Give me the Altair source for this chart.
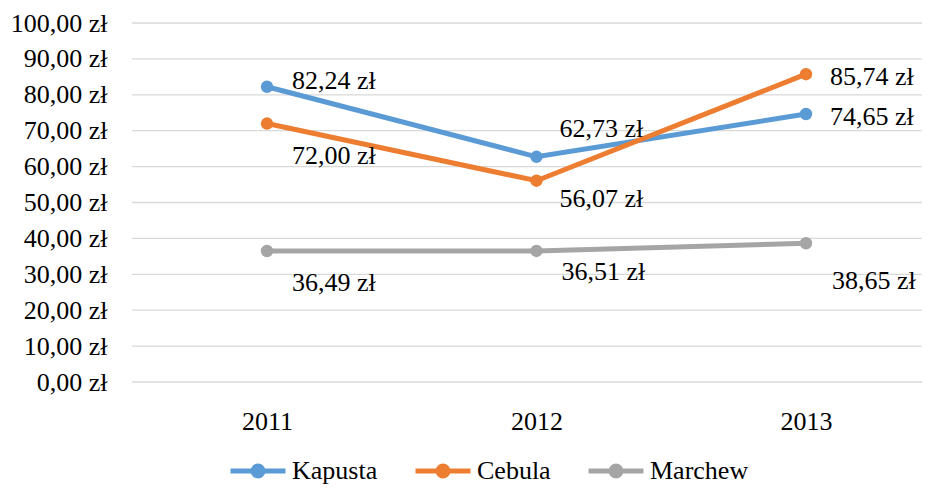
import altair as alt
import pandas as pd

# ---- data ----
years = ["2011", "2012", "2013"]
series_names = ["Kapusta", "Cebula", "Marchew"]
kapusta = [82.24, 62.73, 74.65]
cebula = [72.00, 56.07, 85.74]
marchew = [36.49, 36.51, 38.65]
y_ticks = [0, 10, 20, 30, 40, 50, 60, 70, 80, 90, 100]

# ---- style ----
colors = ["#5B9BD5", "#ED7D31", "#A5A5A5"]
FONT = "Liberation Serif"
FS = 26
W, H = 790, 359
# data-label offsets (px) per series, per year
label_dx = {"Kapusta": [25, 23, 24], "Cebula": [25, 23, 24], "Marchew": [25, 25, 26]}
label_dy = {"Kapusta": [2, -20, 11], "Cebula": [40, 26, 11], "Marchew": [40, 29, 46]}

rows = []
for name, vals in zip(series_names, [kapusta, cebula, marchew]):
    for yr, v in zip(years, vals):
        rows.append({"Rok": yr, "Seria": name, "Cena": v})
df = pd.DataFrame(rows)
grid_df = pd.DataFrame({"Cena": y_ticks})

x_enc = alt.X(
    "Rok:N",
    sort=years,
    scale=alt.Scale(type="point", range=[135, 674], padding=0),
    axis=alt.Axis(title=None, labelAngle=0, ticks=False, domain=False, grid=False,
                  labelFont=FONT, labelFontSize=FS, labelColor="#000000", labelPadding=26),
)
y_enc = alt.Y(
    "Cena:Q",
    scale=alt.Scale(domain=[0, 100], nice=False, zero=True),
    axis=alt.Axis(title=None, values=y_ticks, ticks=False, domain=False, grid=False,
                  labelOverlap=False, tickCount=11,
                  labelExpr="replace(format(datum.value, '.2f'), '.', ',') + ' zł'",
                  labelFont=FONT, labelFontSize=FS, labelColor="#000000", labelPadding=25),
)

col_scale = alt.Scale(domain=series_names, range=colors)
# line with a dot (nested circles so the dot is solid even when only stroked)
legend_path = ("M-1,0H1"
               "M0.18,0A0.18,0.18,0,1,1,-0.18,0A0.18,0.18,0,1,1,0.18,0"
               "M0.09,0A0.09,0.09,0,1,1,-0.09,0A0.09,0.09,0,1,1,0.09,0"
               "M0.02,0A0.02,0.02,0,1,1,-0.02,0A0.02,0.02,0,1,1,0.02,0")
leg = alt.Legend(
    title=None, orient="none", direction="horizontal", legendX=96, legendY=418,
    symbolType=legend_path, symbolSize=3025, symbolStrokeWidth=5,
    labelFont=FONT, labelFontSize=FS, labelColor="#000000", labelOffset=4,
    columnPadding=27, padding=0, symbolOpacity=1,
)

base = alt.Chart(df)

grid = alt.Chart(grid_df).mark_rule(color="#D9D9D9", strokeWidth=1.3).encode(
    y=y_enc,
    x=alt.value(0), x2=alt.value(W),
)

lines = base.mark_line(strokeWidth=5).encode(
    x=x_enc, y=y_enc,
    color=alt.Color("Seria:N", scale=col_scale, legend=leg, sort=series_names),
)

points = base.mark_point(filled=True, size=154, opacity=1).encode(
    x=x_enc, y=y_enc,
    color=alt.Color("Seria:N", scale=col_scale, legend=leg, sort=series_names),
)

texts = []
for name in series_names:
    for j, yr in enumerate(years):
        t = base.transform_filter(
            (alt.datum.Seria == name) & (alt.datum.Rok == yr)
        ).transform_calculate(
            label="replace(format(datum.Cena, '.2f'), '.', ',') + ' zł'"
        ).mark_text(
            align="left", baseline="alphabetic", dx=label_dx[name][j], dy=label_dy[name][j],
            font=FONT, fontSize=FS, color="#000000",
        ).encode(x=x_enc, y=y_enc, text="label:N")
        texts.append(t)

chart = alt.layer(grid, lines, points, *texts).properties(
    width=W, height=H,
    padding={"left": 124, "top": 15, "right": 0, "bottom": 102},
    autosize=alt.AutoSizeParams(type="none"),
).configure_view(stroke=None)

chart.save("out.html", embed_options={"renderer": "svg", "actions": False})
